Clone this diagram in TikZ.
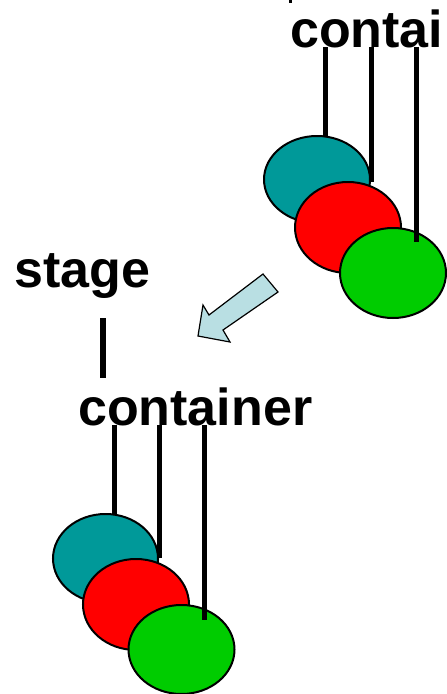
\documentclass[tikz,border=0pt]{standalone}
\usepackage{fontspec}
\setmainfont{Liberation Sans}
\definecolor{tealball}{RGB}{0,153,153}
\definecolor{redball}{RGB}{255,0,0}
\definecolor{greenball}{RGB}{0,204,0}
\definecolor{arrowfill}{RGB}{185,223,227}
\tikzset{
  ball/.style={draw=black, line width=2pt},
  hanger/.style={line width=5pt, black},
  label/.style={inner sep=0pt, anchor=base west, font=\fontsize{52}{60}\selectfont\bfseries},
}
\begin{document}
\begin{tikzpicture}[x=1pt,y=-1pt]
\useasboundingbox (0,0) rectangle (447,694);
\clip (0,0) rectangle (447,694);
% tiny mark at top
\draw[line width=3pt] (290.5,0) coordinate (m1) -- (290.5,3) coordinate (m2);
% upper group
\node[label] (ctop) at (290,47) {contai};
\draw[ball, fill=tealball] (317,179.5) ellipse [x radius=53, y radius=43.5];
\draw[ball, fill=redball] (348,227.5) ellipse [x radius=53, y radius=45.5];
\draw[ball, fill=greenball] (393,273) ellipse [x radius=53, y radius=45];
\coordinate (t1) at (325,47); \coordinate (b1) at (325,136);
\coordinate (t2) at (371,47); \coordinate (b2) at (371,182);
\coordinate (t3) at (416,47); \coordinate (b3) at (416,242);
\draw[hanger] (t1) -- (b1);
\draw[hanger] (t2) -- (b2);
\draw[hanger] (t3) -- (b3);
% arrow
\draw[line width=1.2pt, fill=arrowfill, line join=miter]
  (263,274) -- (278,292) -- (223,330) -- (230,342) -- (198,336) -- (203,305) -- (209,315) -- cycle;
% lower group
\node[label] (stage) at (14,287) {stage};
\coordinate (s1) at (103,318); \coordinate (s2) at (103,378);
\draw[line width=6pt] (s1) -- (s2);
\node[label] (cbot) at (78,425) {container};
\draw[ball, fill=tealball] (105.5,558.5) ellipse [x radius=52.5, y radius=44.5];
\draw[ball, fill=redball] (136,604.5) ellipse [x radius=53, y radius=45.5];
\draw[ball, fill=greenball] (181.5,649.5) ellipse [x radius=53, y radius=44.5];
\coordinate (u1) at (114,425); \coordinate (v1) at (114,515);
\coordinate (u2) at (159,425); \coordinate (v2) at (159,558);
\coordinate (u3) at (204,425); \coordinate (v3) at (204,620);
\draw[hanger] (u1) -- (v1);
\draw[hanger] (u2) -- (v2);
\draw[hanger] (u3) -- (v3);
\end{tikzpicture}
\end{document}
